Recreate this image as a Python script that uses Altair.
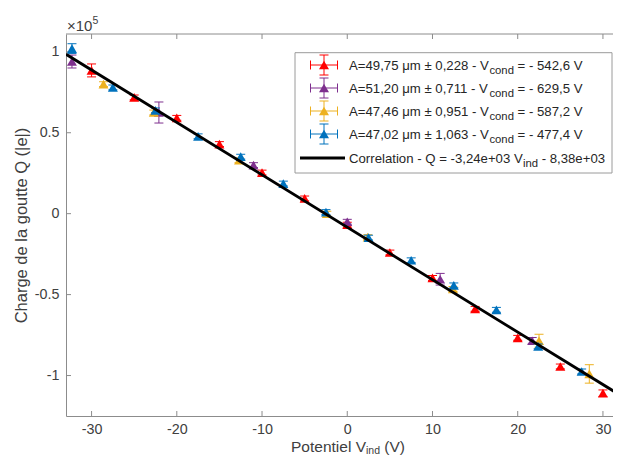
import altair as alt
import pandas as pd

# ---------------- data (Q in units of 1e5 |e|) ----------------
red_v = [-30, -25, -20, -15, -10, -5, 0, 5, 10, 15, 20, 25, 30]
red_q = [0.885, 0.718, 0.592, 0.430, 0.254, 0.094, -0.068, -0.240, -0.397, -0.588, -0.767, -0.944, -1.109]
red_err = [0.040, 0.015, 0.015, 0.015, 0.015, 0.015, 0.015, 0.015, 0.015, 0.015, 0.015, 0.015, 0.020]

purple_v = [-32.3, -22.1, -11.0, 0.0, 10.9, 21.7, 32.0]
purple_q = [0.940, 0.625, 0.300, -0.050, -0.405, -0.785, -1.180]
purple_err = [0.040, 0.065, 0.015, 0.015, 0.036, 0.020, 0.020]

orange_v = [-28.6, -22.7, -12.7, -2.4, 2.4, 12.4, 22.5, 28.4]
orange_q = [0.800, 0.625, 0.330, 0.000, -0.145, -0.465, -0.785, -0.990]
orange_err = [0.015, 0.015, 0.015, 0.015, 0.015, 0.015, 0.040, 0.057]

blue_v = [-32.3, -27.5, -22.5, -17.5, -12.5, -7.5, -2.5, 2.5, 7.5, 12.5, 17.5, 22.4, 27.5, 32.3]
blue_q = [1.020, 0.780, 0.638, 0.478, 0.352, 0.186, 0.010, -0.148, -0.288, -0.443, -0.594, -0.820, -0.975, -1.165]
blue_err = [0.030, 0.015, 0.015, 0.015, 0.015, 0.015, 0.015, 0.015, 0.015, 0.015, 0.015, 0.015, 0.015, 0.020]

fit_v = [-33, 33]
fit_q = [0.985, -1.153]

x_ticks = [-30, -20, -10, 0, 10, 20, 30]
y_ticks = [-1, -0.5, 0, 0.5, 1]

legend_main = ["A=49,75 μm ± 0,228 - V", "A=51,20 μm ± 0,711 - V",
               "A=47,46 μm ± 0,951 - V", "A=47,02 μm ± 1,063 - V",
               "Correlation - Q = -3,24e+03 V"]
legend_sub = ["cond", "cond", "cond", "cond", "ind"]
legend_tail = ["= - 542,6 V", "= - 629,5 V", "= - 587,2 V", "= - 477,4 V", "- 8,38e+03"]

x_title = ["Potentiel V", "ind", "(V)"]
y_title = "Charge de la goutte Q (|e|)"
exp_label = ["×10", "5"]

# ---------------- style ----------------
FONT = "Liberation Sans"
COLORS = ["#FF0000", "#7E2F8E", "#EDB120", "#0072BD"]
AX = "#8c8c8c"
LAB = "#404040"
TXT = "#262626"
W, H = 547, 382
PAD_L, PAD_T, PAD_B = 58, 26, 40   # whole svg: 605 x 448 (fits the 621x464 page)

# Arial-metric advance widths (per 1000 em) for text layout
AW = {' ': 278, '(': 333, ')': 333, '+': 584, ',': 278, '-': 333, '.': 278, '=': 584,
      'A': 667, 'C': 722, 'P': 667, 'Q': 778, 'V': 667, 'a': 556, 'c': 500, 'd': 556,
      'e': 556, 'i': 222, 'l': 222, 'm': 833, 'n': 556, 'o': 556, 'r': 333, 't': 278,
      'u': 556, '±': 584, 'μ': 576, '×': 584}
for ch in "0123456789":
    AW[ch] = 556


def tw(s, size):
    return sum(AW.get(c, 556) for c in s) * size / 1000.0


xs = alt.Scale(domain=[-33, 31.18], nice=False, zero=False)
ys = alt.Scale(domain=[-1.25, 1.11], nice=False, zero=False)

x_axis = alt.Axis(values=x_ticks, labelExpr="'' + datum.value", ticks=False, grid=False,
                  domainColor=AX, domainWidth=1, labelFontSize=14.3, labelColor=LAB,
                  labelFont=FONT, labelPadding=6, title=None, labelOverlap=False,
                  labelFlush=False)
y_axis = alt.Axis(values=y_ticks, labelExpr="'' + datum.value", ticks=False, grid=False,
                  domainColor=AX, domainWidth=1, labelFontSize=14.3, labelColor=LAB,
                  labelFont=FONT, labelPadding=7, title=y_title, titleFont=FONT,
                  titleFontSize=16.5, titleFontWeight="normal", titleColor=LAB,
                  titlePadding=5, labelOverlap=False)


def X(f):
    return alt.X(f, type="quantitative", scale=xs, axis=x_axis)


def Y(f):
    return alt.Y(f, type="quantitative", scale=ys, axis=y_axis)


one = pd.DataFrame({"d": [0]})
layers = []

fit = pd.DataFrame({"v": fit_v, "q": fit_q})
line_layer = alt.Chart(fit).mark_line(color="black", strokeWidth=2.8, clip=True).encode(
    x=X("v"), y=Y("q"))

# frame: top line + inward ticks
layers.append(alt.Chart(one).mark_rule(color=AX, strokeWidth=1).encode(
    x=alt.value(0), x2=alt.value(W), y=alt.value(0)))
xt = pd.DataFrame({"v": x_ticks})
layers.append(alt.Chart(xt).mark_rule(color=AX, strokeWidth=1).encode(
    x=X("v"), y=alt.value(H), y2=alt.value(H - 5)))
layers.append(alt.Chart(xt).mark_rule(color=AX, strokeWidth=1).encode(
    x=X("v"), y=alt.value(0), y2=alt.value(5)))
yt = pd.DataFrame({"q": y_ticks})
layers.append(alt.Chart(yt).mark_rule(color=AX, strokeWidth=1).encode(
    y=Y("q"), x=alt.value(0), x2=alt.value(5)))

# data series
series = [(red_v, red_q, red_err), (purple_v, purple_q, purple_err),
          (orange_v, orange_q, orange_err), (blue_v, blue_q, blue_err)]
for (v, q, e), col in zip(series, COLORS):
    df = pd.DataFrame({"v": v, "q": q,
                       "lo": [a - b for a, b in zip(q, e)],
                       "hi": [a + b for a, b in zip(q, e)]})
    base = alt.Chart(df)
    layers.append(base.mark_rule(color=col, strokeWidth=1, clip=True).encode(
        x=X("v"), y=Y("lo"), y2=alt.Y2("hi")))
    for f in ["lo", "hi"]:
        layers.append(base.mark_tick(color=col, orient="horizontal", size=9, thickness=1,
                                     opacity=1, clip=True).encode(x=X("v"), y=Y(f)))
    layers.append(base.mark_point(shape="triangle-up", filled=True, size=100, color=col,
                                  opacity=1, clip=True).encode(x=X("v"), y=Y("q")))

layers.append(line_layer)

# legend
BX0, BX1, BY0, BY1 = 229, 546, 18.7, 139
layers.append(alt.Chart(one).mark_rect(fill="white", stroke="#9a9a9a", strokeWidth=1).encode(
    x=alt.value(BX0), x2=alt.value(BX1), y=alt.value(BY0), y2=alt.value(BY1)))
row_y = [31, 54, 77, 100, 124]
IX = 258
LF, SF = 13.2, 11.3
TX = 283
for i in range(5):
    cy = row_y[i]
    if i < 4:
        col = COLORS[i]
        layers.append(alt.Chart(one).mark_rule(color=col, strokeWidth=1).encode(
            x=alt.value(IX), y=alt.value(cy - 10), y2=alt.value(cy + 10)))
        layers.append(alt.Chart(one).mark_rule(color=col, strokeWidth=1).encode(
            x=alt.value(IX - 13.5), x2=alt.value(IX + 13.5), y=alt.value(cy)))
        for dy in (-10, 10):
            layers.append(alt.Chart(one).mark_rule(color=col, strokeWidth=1).encode(
                x=alt.value(IX - 4.5), x2=alt.value(IX + 4.5), y=alt.value(cy + dy)))
        for dx in (-13.5, 13.5):
            layers.append(alt.Chart(one).mark_rule(color=col, strokeWidth=1).encode(
                x=alt.value(IX + dx), y=alt.value(cy - 4.5), y2=alt.value(cy + 4.5)))
        layers.append(alt.Chart(one).mark_point(shape="triangle-up", filled=True, size=100,
                                                color=col, opacity=1).encode(
            x=alt.value(IX), y=alt.value(cy)))
    else:
        layers.append(alt.Chart(one).mark_rule(color="black", strokeWidth=2.8).encode(
            x=alt.value(234), x2=alt.value(279), y=alt.value(cy)))
    base_y = cy + 4.7
    x0 = TX
    x1 = x0 + tw(legend_main[i], LF)
    x2 = x1 + tw(legend_sub[i], SF) + tw(" ", LF)
    for s, px, py, fs in [(legend_main[i], x0, base_y, LF),
                          (legend_sub[i], x1, base_y + 4.5, SF),
                          (legend_tail[i], x2, base_y, LF)]:
        layers.append(alt.Chart(one).mark_text(align="left", baseline="alphabetic", font=FONT,
                                               fontSize=fs, color=TXT).encode(
            x=alt.value(px), y=alt.value(py), text=alt.value(s)))

# x title with subscript
TF, TSF = 15.5, 10.5
w0 = tw(x_title[0], TF)
w1 = tw(x_title[1], TSF)
gap = tw(" ", TF)
tot = w0 + w1 + gap + tw(x_title[2], TF)
sx = 282 - tot / 2
xb = H + 36
parts = [(x_title[0], sx, xb, TF),
         (x_title[1], sx + w0, xb + 1.8, TSF),
         (x_title[2], sx + w0 + w1 + gap, xb, TF)]
for s, px, py, fs in parts:
    layers.append(alt.Chart(one).mark_text(align="left", baseline="alphabetic", font=FONT,
                                           fontSize=fs, color=LAB).encode(
        x=alt.value(px), y=alt.value(py), text=alt.value(s)))

# x10^5 exponent label
layers.append(alt.Chart(one).mark_text(align="left", baseline="alphabetic", font=FONT,
                                       fontSize=15, color=LAB).encode(
    x=alt.value(1), y=alt.value(-3), text=alt.value(exp_label[0])))
layers.append(alt.Chart(one).mark_text(align="left", baseline="alphabetic", font=FONT,
                                       fontSize=10.5, color=LAB).encode(
    x=alt.value(1 + tw(exp_label[0], 15)), y=alt.value(-10), text=alt.value(exp_label[1])))

chart = alt.layer(*layers).properties(
    width=W, height=H,
    padding={"left": PAD_L, "top": PAD_T, "right": 0, "bottom": PAD_B},
    autosize=alt.AutoSizeParams(type="none"),
).configure_view(stroke=None)

chart.save("out.html", embed_options={"renderer": "svg", "actions": False})
